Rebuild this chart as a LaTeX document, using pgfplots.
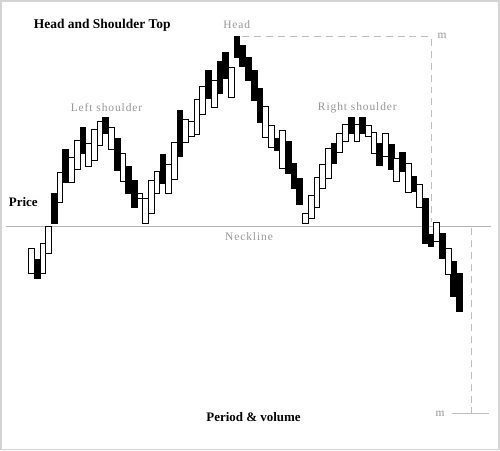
\documentclass[border=0pt]{standalone}
\usepackage{pgfplots}
\pgfplotsset{compat=1.18}
\usepackage{pgfplotstable}
\usepackage{fontspec}
\setmainfont{Liberation Serif}
\newfontfamily\spaced[LetterSpace=8]{Liberation Serif}
\definecolor{lblgrey}{RGB}{150,150,150}
\definecolor{dashgrey}{RGB}{190,190,190}
\definecolor{framegrey}{RGB}{212,212,212}
% x = bar centre, b = bottom of body, w = height of white (rising) body, k = height of black (falling) body
\pgfplotstableread{
x b w k
30.9 176 26 0
36.6 171 0 19
42.3 176 31 0
48.0 196 28 0
53.8 227 0 30
59.5 248 30 0
65.2 268 0 33
71.0 268 25 0
76.7 281 29 0
82.4 297 0 26
88.1 284 23 0
93.9 290 31 0
99.6 305 24 0
105.3 317 0 16
111.0 301 22 0
116.8 280 0 32
122.5 269 28 0
128.2 257 0 27
133.9 243 0 27
139.7 252 5 0
145.4 227 25 0
151.1 237 33 0
156.8 257 22 0
162.6 267 0 29
168.3 257 29 0
174.0 271 37 0
179.7 294 0 46
185.5 308 23 0
191.2 314 15 0
196.9 316 35 0
202.6 336 28 0
208.4 352 0 28
214.1 343 27 0
219.8 357 0 32
225.5 372 0 26
231.3 353 30 0
237.0 393 0 21
242.7 384 0 21
248.4 370 0 23
254.2 350 0 30
259.9 328 0 34
265.6 313 31 0
271.3 303 22 0
277.1 300 0 12
282.8 282 38 0
288.5 277 0 32
294.2 262 0 25
300.0 246 0 26
305.7 227 10 0
311.4 232 23 0
317.1 243 30 0
322.9 262 24 0
328.6 272 30 0
334.3 287 0 20
340.0 298 19 0
345.8 309 17 0
351.5 317 0 16
357.2 309 17 0
362.9 317 0 16
368.7 314 11 0
374.4 297 21 0
380.1 285 0 22
385.8 294 23 0
391.6 281 0 25
397.3 269 23 0
403.0 279 0 19
408.7 258 29 0
414.5 259 0 15
420.2 243 23 0
425.9 207 0 45
431.6 204 0 12
437.4 209 19 0
443.1 191 0 26
448.8 175 27 0
454.5 153 0 35
460.3 138 0 38
}\bars
\begin{document}
\begin{tikzpicture}
\begin{axis}[
  width=500pt, height=450pt, scale only axis,
  xmin=0, xmax=500, ymin=0, ymax=450,
  axis line style={draw=framegrey, line width=1.6pt},
  ticks=none, clip=false]
\addplot[black!30, line width=0.9pt] coordinates {(5,224) (492,224)};
\addplot[dashgrey, line width=1.5pt, dash pattern=on 7pt off 5pt] coordinates {(242,414) (432,414) (432,228)};
\addplot[dashgrey, line width=1.5pt, dash pattern=on 7pt off 5pt] coordinates {(472,222) (472,36)};
\addplot[dashgrey, line width=1.1pt] coordinates {(453,36) (490,36)};
\node[anchor=base west, inner sep=0pt, font=\fontsize{13.5}{15}\selectfont\bfseries] at (axis cs:33,422) {Head and Shoulder Top};
\node[anchor=base west, inner sep=0pt, text=lblgrey, font=\fontsize{11.5}{13}\spaced] at (axis cs:223,422) {Head};
\node[anchor=base west, inner sep=0pt, text=lblgrey, font=\fontsize{11.5}{13}\spaced] at (axis cs:70,339) {Left shoulder};
\node[anchor=base west, inner sep=0pt, text=lblgrey, font=\fontsize{11.5}{13}\spaced] at (axis cs:318,340) {Right shoulder};
\node[anchor=base, inner sep=0pt, text=lblgrey, font=\fontsize{11.5}{13}\spaced] at (axis cs:249,210) {Neckline};
\node[anchor=base west, inner sep=0pt, text=lblgrey, font=\fontsize{11.5}{13}\spaced] at (axis cs:438,412) {m};
\node[anchor=base west, inner sep=0pt, text=lblgrey, font=\fontsize{11.5}{13}\spaced] at (axis cs:436,33) {m};
\node[anchor=base west, inner sep=0pt, font=\fontsize{13}{15}\selectfont\bfseries] at (axis cs:8,244) {Price};
\node[anchor=base west, inner sep=0pt, font=\fontsize{13}{15}\selectfont\bfseries] at (axis cs:206,28) {Period \& volume};
\end{axis}
\begin{axis}[
  width=500pt, height=450pt, scale only axis,
  xmin=0, xmax=500, ymin=0, ymax=450,
  hide axis, ybar stacked, bar width=5.724]
\addplot[draw=none, fill=none] table[x=x, y=b] {\bars};
\addplot[draw=black, fill=white, line width=1pt] table[x=x, y=w] {\bars};
\addplot[draw=black, fill=black, line width=1pt] table[x=x, y=k] {\bars};
\end{axis}
\end{tikzpicture}
\end{document}
